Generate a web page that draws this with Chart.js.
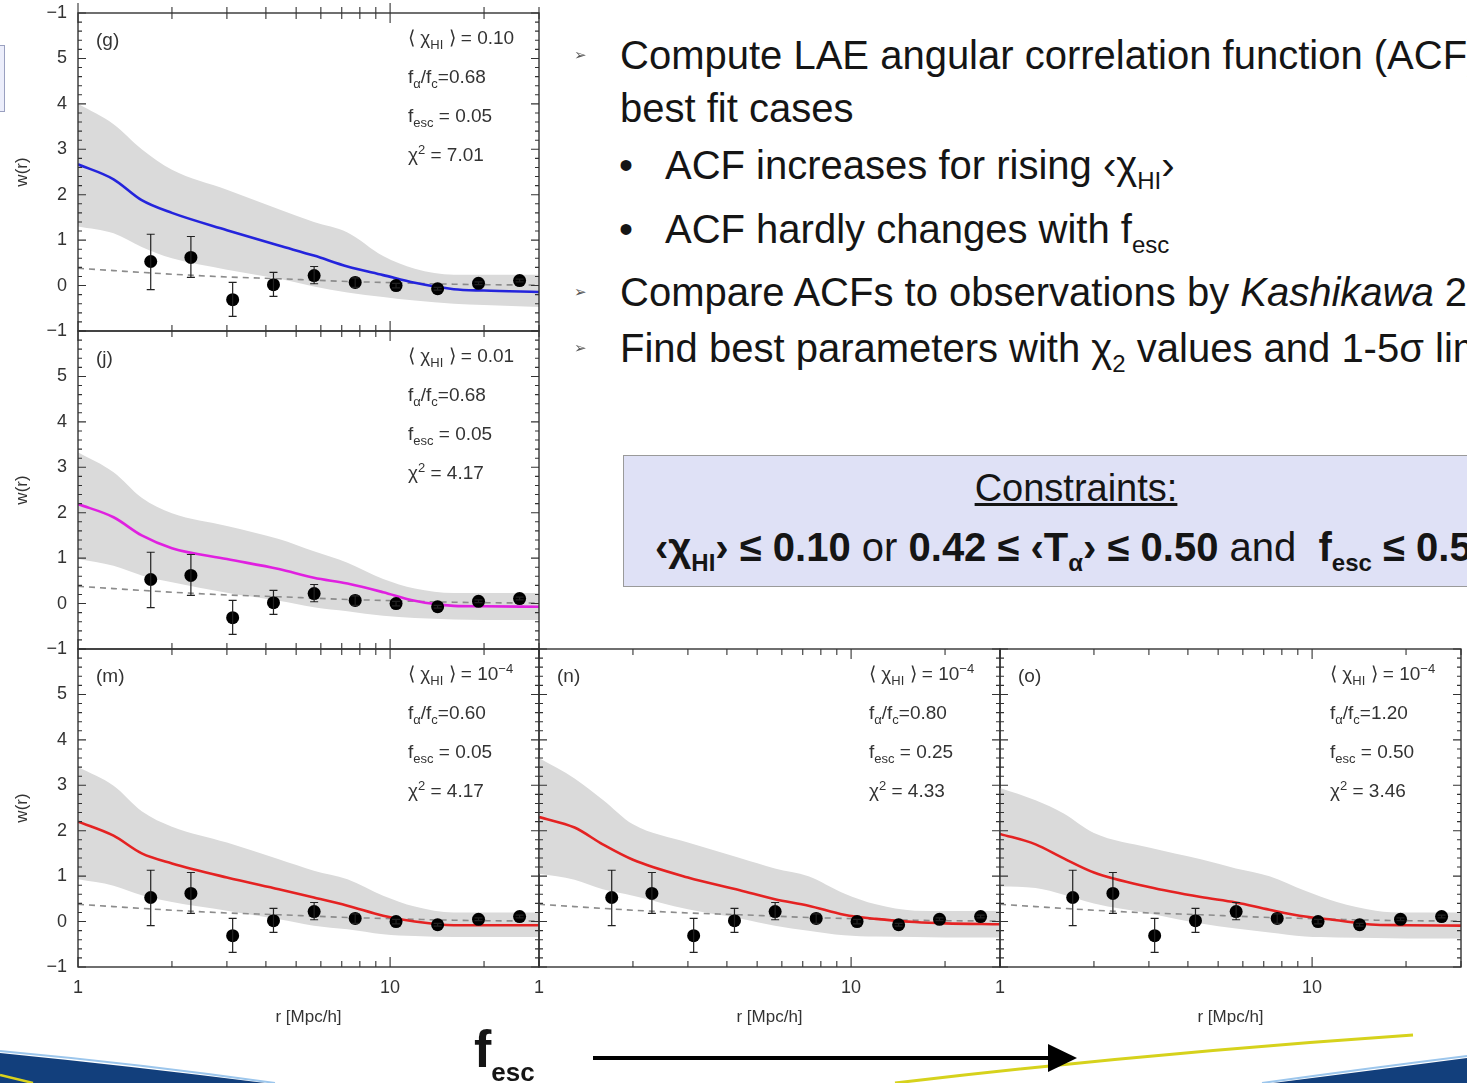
<!DOCTYPE html>
<html>
<head>
<meta charset="utf-8">
<script src="https://cdn.jsdelivr.net/npm/chart.js@4.4.1/dist/chart.umd.min.js"></script>
<style>
  html, body { margin: 0; padding: 0; }
  body { width: 1467px; height: 1083px; overflow: hidden; position: relative; background: #fff;
         font-family: "Liberation Sans", Arial, sans-serif; color: #151515; }
  canvas { position: absolute; }
  .abs { position: absolute; white-space: nowrap; }
  .note { font-size: 19px; color: #333; line-height: 22px; }
  .note sub, .note sup { font-size: 13px; line-height: 0; }
  .big { font-size: 40px; line-height: 46px; }
  .big sub { font-size: 24px; line-height: 0; vertical-align: -10px; }
  .mark { font-family: "DejaVu Sans", sans-serif; font-size: 15px; color: #555; }
  #box { left: 623px; top: 455px; width: 906px; height: 132px; background: #dfe1f6; border: 1.5px solid #9a9a9a; box-sizing: border-box; }
  #box div { position: absolute; white-space: nowrap; }
</style>
</head>
<body>
<script>
// model grid in r [Mpc/h]
const rModel = [1, 1.3, 1.6, 2, 3, 4.4, 5.7, 7.3, 9.5, 12, 16, 20, 30];

const gLine  = [2.67, 2.34, 1.88, 1.6, 1.22, 0.88, 0.66, 0.42, 0.23, 0.06, -0.08, -0.11, -0.14];
const gUpper = [4.0, 3.55, 3.0, 2.55, 2.11, 1.68, 1.4, 1.17, 0.65, 0.37, 0.24, 0.24, 0.24];
const gLower = [1.3, 1.15, 0.85, 0.6, 0.35, 0.15, -0.02, -0.15, -0.25, -0.33, -0.4, -0.43, -0.47];

const jLine  = [2.19, 1.9, 1.5, 1.22, 0.98, 0.76, 0.57, 0.44, 0.25, 0.06, -0.05, -0.06, -0.07];
const jUpper = [3.33, 2.89, 2.33, 1.99, 1.71, 1.42, 1.15, 0.9, 0.54, 0.33, 0.23, 0.23, 0.23];
const jLower = [0.98, 0.83, 0.62, 0.47, 0.24, 0.06, -0.08, -0.17, -0.27, -0.32, -0.35, -0.36, -0.36];

const mLine  = [2.2, 1.89, 1.5, 1.28, 0.97, 0.71, 0.53, 0.35, 0.13, 0.0, -0.08, -0.08, -0.08];
const mUpper = [3.4, 2.99, 2.43, 2.09, 1.74, 1.37, 1.12, 0.93, 0.57, 0.33, 0.2, 0.2, 0.2];
const mLower = [0.93, 0.79, 0.58, 0.43, 0.24, 0.05, -0.09, -0.17, -0.28, -0.32, -0.34, -0.34, -0.34];

const nLine  = [2.3, 2.07, 1.7, 1.36, 0.97, 0.69, 0.49, 0.35, 0.15, 0.06, -0.01, -0.04, -0.06];
const nUpper = [3.6, 3.15, 2.68, 2.14, 1.74, 1.4, 1.17, 1.0, 0.62, 0.38, 0.24, 0.23, 0.23];
const nLower = [1.05, 0.92, 0.71, 0.57, 0.27, 0.07, -0.09, -0.2, -0.3, -0.33, -0.34, -0.35, -0.35];

const oLine  = [1.93, 1.7, 1.39, 1.08, 0.76, 0.54, 0.42, 0.26, 0.11, 0.03, -0.07, -0.08, -0.09];
const oUpper = [2.94, 2.67, 2.38, 1.95, 1.63, 1.37, 1.17, 1.0, 0.68, 0.43, 0.24, 0.2, 0.2];
const oLower = [0.77, 0.74, 0.59, 0.4, 0.18, -0.04, -0.15, -0.24, -0.33, -0.35, -0.36, -0.37, -0.37];

// dashed reference curve
const dashW = [0.38, 0.33, 0.29, 0.25, 0.19, 0.15, 0.12, 0.09, 0.07, 0.05, 0.03, 0.02, 0.01];

// observed ACF (Kashikawa)
const obsR  = [1.71, 2.3, 3.13, 4.23, 5.71, 7.73, 10.45, 14.2, 19.2, 26.0];
const obsW  = [0.53, 0.62, -0.31, 0.02, 0.22, 0.07, 0.0, -0.07, 0.05, 0.11];
const obsLo = [-0.09, 0.18, -0.68, -0.24, 0.04, -0.04, -0.05, -0.1, 0.02, 0.08];
const obsHi = [1.13, 1.08, 0.07, 0.29, 0.42, 0.17, 0.05, -0.04, 0.08, 0.14];

const panelTags = ['(g)', '(j)', '(m)', '(n)', '(o)'];
const chiHI = ['0.10', '0.01', '10<sup>−4</sup>', '10<sup>−4</sup>', '10<sup>−4</sup>'];
const faFc  = ['0.68', '0.68', '0.60', '0.80', '1.20'];
const fesc  = ['0.05', '0.05', '0.05', '0.25', '0.50'];
const chi2  = ['7.01', '4.17', '4.17', '4.33', '3.46'];

const xTickVals = [1, 2, 3, 4, 5, 6, 7, 8, 9, 10, 20, 30];

const panels = [
  { line: gLine, upper: gUpper, lower: gLower, color: '#2424dc', left: 78,   top: 13,  xLabels: false, yLabels: true, outTop: true },
  { line: jLine, upper: jUpper, lower: jLower, color: '#e020e0', left: 78,   top: 331, xLabels: false, yLabels: true },
  { line: mLine, upper: mUpper, lower: mLower, color: '#e42222', left: 78,   top: 649, xLabels: true,  yLabels: true },
  { line: nLine, upper: nUpper, lower: nLower, color: '#e42222', left: 539,  top: 649, xLabels: true,  yLabels: false },
  { line: oLine, upper: oUpper, lower: oLower, color: '#e42222', left: 1000, top: 649, xLabels: true,  yLabels: false }
];
const PW = 461, PH = 318, AXW = 78, PADT = 14, PADR = 14;

// frame with inward ticks on all four sides
const frameTicks = {
  id: 'frameTicks',
  afterDatasetsDraw(chart, args, opts) {
    const { ctx, chartArea: a, scales: { x, y } } = chart;
    ctx.save();
    ctx.strokeStyle = '#333';
    ctx.lineWidth = 1.4;
    ctx.strokeRect(a.left, a.top, a.right - a.left, a.bottom - a.top);
    ctx.lineWidth = 1.1;
    ctx.beginPath();
    xTickVals.forEach(v => {
      const px = x.getPixelForValue(v);
      const len = (v === 1 || v === 10) ? 10 : 6;
      ctx.moveTo(px, a.bottom); ctx.lineTo(px, a.bottom - len);
      ctx.moveTo(px, a.top); ctx.lineTo(px, a.top + len);
      if (opts.outTop) { ctx.moveTo(px, a.top); ctx.lineTo(px, a.top - len); }
    });
    for (let k = -5; k <= 30; k++) {
      const py = y.getPixelForValue(k / 5);
      const len = k % 5 === 0 ? 8 : 4;
      ctx.moveTo(a.left, py); ctx.lineTo(a.left + len, py);
      ctx.moveTo(a.right, py); ctx.lineTo(a.right - len, py);
    }
    ctx.stroke();
    ctx.restore();
  }
};

const errorBars = {
  id: 'errorBars',
  afterDatasetsDraw(chart) {
    const { ctx, scales: { x, y } } = chart;
    ctx.save();
    ctx.strokeStyle = '#222';
    ctx.lineWidth = 1.2;
    ctx.beginPath();
    obsR.forEach((r, k) => {
      const px = x.getPixelForValue(r);
      const y1 = y.getPixelForValue(obsLo[k]);
      const y2 = y.getPixelForValue(obsHi[k]);
      ctx.moveTo(px, y1); ctx.lineTo(px, y2);
      ctx.moveTo(px - 4, y1); ctx.lineTo(px + 4, y1);
      ctx.moveTo(px - 4, y2); ctx.lineTo(px + 4, y2);
    });
    ctx.stroke();
    ctx.restore();
  }
};

// keep label overhang from shrinking the plot area
const noPad = s => { s.paddingTop = 0; s.paddingBottom = 0; s.paddingLeft = 0; s.paddingRight = 0; };

const xy = (xs, ys) => xs.map((v, k) => ({ x: v, y: ys[k] }));
const tickFont = { family: '"Liberation Sans", Arial, sans-serif', size: 18 };
const titleFont = { family: '"Liberation Sans", Arial, sans-serif', size: 17 };

panels.forEach((p, i) => {
  const cv = document.createElement('canvas');
  const bottomH = p.xLabels ? 73 : 10;
  cv.width = AXW + PW + PADR;
  cv.height = PADT + PH + bottomH;
  cv.style.left = (p.left - AXW) + 'px';
  cv.style.top = (p.top - PADT) + 'px';
  document.body.appendChild(cv);

  new Chart(cv, {
    type: 'line',
    data: {
      datasets: [
        { data: xy(obsR, obsW), showLine: false, pointRadius: 6.5, pointHoverRadius: 6.5,
          pointBackgroundColor: '#000', pointBorderWidth: 0, order: 0 },
        { data: xy(rModel, p.line), borderColor: p.color, borderWidth: 2.6, pointRadius: 0, fill: false,
          cubicInterpolationMode: 'monotone', order: 1 },
        { data: xy(rModel, dashW), borderColor: '#8c8c8c', borderDash: [6, 5], borderWidth: 1.6, pointRadius: 0, fill: false,
          cubicInterpolationMode: 'monotone', order: 2 },
        { data: xy(rModel, p.upper), borderColor: 'rgba(0,0,0,0)', borderWidth: 1, pointRadius: 0, fill: false,
          cubicInterpolationMode: 'monotone', order: 3 },
        { data: xy(rModel, p.lower), borderColor: 'rgba(0,0,0,0)', borderWidth: 1, pointRadius: 0, fill: '-1',
          backgroundColor: '#dadada', cubicInterpolationMode: 'monotone', order: 3 }
      ]
    },
    options: {
      responsive: false,
      animation: false,
      devicePixelRatio: 1,
      events: [],
      layout: { autoPadding: false, padding: { top: PADT, right: PADR, left: 0, bottom: 0 } },
      plugins: { legend: { display: false }, tooltip: { enabled: false }, frameTicks: { outTop: !!p.outTop } },
      scales: {
        x: {
          type: 'logarithmic', min: 1, max: 30,
          grid: { display: false, drawTicks: false }, border: { display: false },
          afterFit: s => { s.height = bottomH; noPad(s); },
          ticks: { display: p.xLabels, autoSkip: false, maxRotation: 0, padding: 10, color: '#333', font: tickFont,
                   callback: v => (v === 1 || v === 10) ? String(v) : '' },
          title: { display: p.xLabels, text: 'r [Mpc/h]', color: '#333', font: titleFont, padding: { top: 0, bottom: 12 } }
        },
        y: {
          min: -1, max: 6,
          grid: { display: false, drawTicks: false }, border: { display: false },
          afterFit: s => { s.width = AXW; noPad(s); },
          ticks: { display: p.yLabels, stepSize: 1, padding: 11, color: '#333', font: tickFont,
                   callback: v => v === 6 ? (p.outTop ? '−1' : '') : (v < 0 ? '−' + Math.abs(v) : String(v)) },
          title: { display: p.yLabels, text: 'w(r)', color: '#333', font: titleFont, padding: { top: 12, bottom: 0 } }
        }
      }
    },
    plugins: [frameTicks, errorBars]
  });

  // panel annotations
  const tag = document.createElement('div');
  tag.className = 'abs note';
  tag.style.left = (p.left + 18) + 'px';
  tag.style.top = (p.top + 16) + 'px';
  tag.textContent = panelTags[i];
  document.body.appendChild(tag);

  const lines = [
    '⟨ χ<sub>HI</sub> ⟩ = ' + chiHI[i],
    'f<sub>α</sub>/f<sub>c</sub>=' + faFc[i],
    'f<sub>esc</sub> = ' + fesc[i],
    'χ<sup>2</sup> = ' + chi2[i]
  ];
  lines.forEach((h, k) => {
    const d = document.createElement('div');
    d.className = 'abs note';
    d.style.left = (p.left + 330) + 'px';
    d.style.top = (p.top + 14 + k * 39) + 'px';
    d.innerHTML = h;
    document.body.appendChild(d);
  });
});
</script>

<!-- cut-off box at the left edge -->
<div class="abs" style="left:-12px;top:45px;width:15px;height:65px;background:#eceefb;border:1px solid #9aa0c0;"></div>

<!-- slide text -->
<div class="abs mark" style="left:574px;top:46px;">➢</div>
<div class="abs big" style="left:620px;top:32px;">Compute LAE angular correlation function (ACF) for</div>
<div class="abs big" style="left:620px;top:85px;">best fit cases</div>
<div class="abs big" style="left:619px;top:142px;">•</div>
<div class="abs big" style="left:665px;top:142px;">ACF increases for rising ‹χ<sub>HI</sub>›</div>
<div class="abs big" style="left:619px;top:206px;">•</div>
<div class="abs big" style="left:665px;top:206px;">ACF hardly changes with f<sub>esc</sub></div>
<div class="abs mark" style="left:574px;top:283px;">➢</div>
<div class="abs big" style="left:620px;top:269px;">Compare ACFs to observations by <i>Kashikawa</i> 2006</div>
<div class="abs mark" style="left:574px;top:339px;">➢</div>
<div class="abs big" style="left:620px;top:325px;">Find best parameters with χ<sub>2</sub> values and 1-5σ limits</div>

<div id="box" class="abs">
  <div class="big" style="top:9px;left:0;width:100%;text-align:center;font-size:38px;"><u>Constraints:</u></div>
  <div class="big" style="top:68px;left:31px;"><b>‹χ<sub>HI</sub>› ≤ 0.10</b> or <b>0.42 ≤ ‹T<sub>α</sub>› ≤ 0.50</b> and&nbsp; <b>f<sub>esc</sub> ≤ 0.5</b></div>
</div>

<!-- bottom banner -->
<svg class="abs" style="left:0;top:1020px;" width="1467" height="63" viewBox="0 0 1467 63">
  <path d="M0,31 Q140,44 275,63" fill="none" stroke="#9cc6ec" stroke-width="2"/>
  <path d="M0,33 Q130,46 265,63 L0,63 Z" fill="#123f7c"/>
  <path d="M0,55 L33,63" stroke="#d9d21c" stroke-width="2.5"/>
  <path d="M895,63 Q1150,33 1413,15" fill="none" stroke="#d6d21c" stroke-width="3"/>
  <path d="M1262,63 Q1370,48 1467,36" fill="none" stroke="#9cc6ec" stroke-width="2"/>
  <path d="M1273,63 Q1375,50 1467,38 L1467,63 Z" fill="#123f7c"/>
  <line x1="593" y1="38" x2="1050" y2="38" stroke="#000" stroke-width="4"/>
  <path d="M1048,24 L1077,38 L1048,52 Z" fill="#000"/>
</svg>
<div class="abs" style="left:474px;top:1019px;font-weight:bold;font-size:52px;line-height:60px;">f<span style="font-size:26px;vertical-align:-14px;">esc</span></div>
</body>
</html>
